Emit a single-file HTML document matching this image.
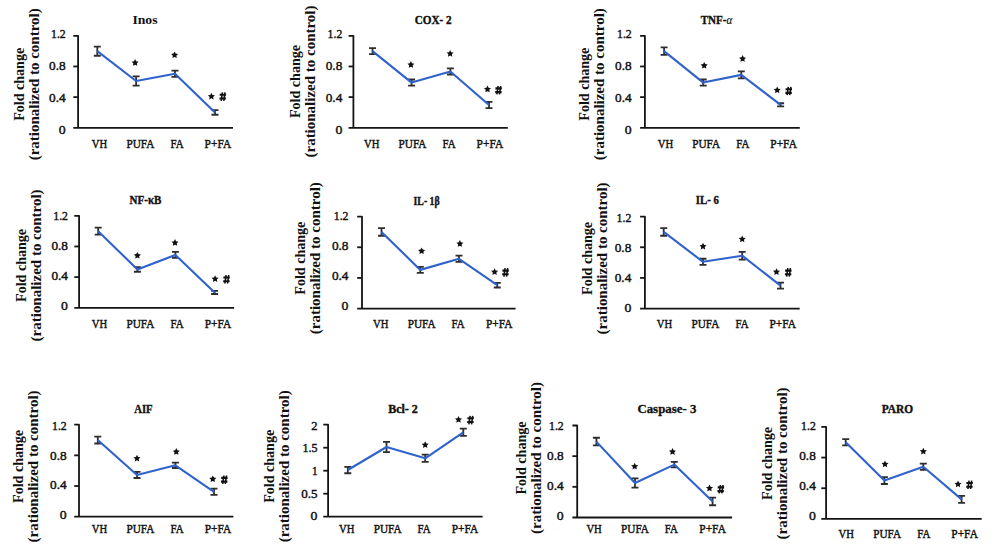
<!DOCTYPE html>
<html><head><meta charset="utf-8"><style>
html,body{margin:0;padding:0;background:#fff;width:1000px;height:548px;overflow:hidden}
svg{display:block}
text{font-family:"Liberation Serif", serif;fill:#111}
.tk{font-size:11.8px;stroke:#111;stroke-width:0.4px}
.ct{font-size:12.6px;stroke:#111;stroke-width:0.45px}
.ti{font-size:13.2px;font-weight:bold}
.yl{font-size:14px;font-weight:bold}
</style></head><body>
<svg width="1000" height="548" viewBox="0 0 1000 548">
<rect width="1000" height="548" fill="#fff"/>
<path d="M73.30,35.80 H78.10 V127.80 H233.00 M73.30,127.80 H78.10" fill="none" stroke="#141414" stroke-width="1.8" stroke-linejoin="round"/>
<text x="65.70" y="134.40" text-anchor="end" class="tk" textLength="6.90" lengthAdjust="spacingAndGlyphs">0</text>
<line x1="73.30" y1="97.13" x2="78.10" y2="97.13" stroke="#141414" stroke-width="1.8"/>
<text x="65.70" y="102.27" text-anchor="end" class="tk" textLength="16.60" lengthAdjust="spacingAndGlyphs">0.4</text>
<line x1="73.30" y1="66.47" x2="78.10" y2="66.47" stroke="#141414" stroke-width="1.8"/>
<text x="65.70" y="70.13" text-anchor="end" class="tk" textLength="16.60" lengthAdjust="spacingAndGlyphs">0.8</text>
<text x="65.70" y="38.00" text-anchor="end" class="tk" textLength="14.70" lengthAdjust="spacingAndGlyphs">1.2</text>
<path d="M93.80,46.53 H100.80 M97.30,46.53 V55.73 M93.80,55.73 H100.80" stroke="#2e2e2e" stroke-width="1.8" fill="none"/>
<path d="M132.60,76.43 H139.60 M136.10,76.43 V85.63 M132.60,85.63 H139.60" stroke="#2e2e2e" stroke-width="1.8" fill="none"/>
<path d="M171.50,70.68 H178.50 M175.00,70.68 V76.82 M171.50,76.82 H178.50" stroke="#2e2e2e" stroke-width="1.8" fill="none"/>
<path d="M211.50,110.17 H218.50 M215.00,110.17 V114.77 M211.50,114.77 H218.50" stroke="#2e2e2e" stroke-width="1.8" fill="none"/>
<polyline points="97.30,51.13 136.10,81.03 175.00,73.75 215.00,112.47" fill="none" stroke="#3062cc" stroke-width="2.1" stroke-linejoin="round"/>
<polygon points="135.10,59.10 136.19,61.30 138.62,61.66 136.86,63.37 137.27,65.79 135.10,64.65 132.93,65.79 133.34,63.37 131.58,61.66 134.01,61.30" fill="#111"/>
<polygon points="174.60,51.40 175.69,53.60 178.12,53.96 176.36,55.67 176.77,58.09 174.60,56.95 172.43,58.09 172.84,55.67 171.08,53.96 173.51,53.60" fill="#111"/>
<polygon points="211.40,92.80 212.49,95.00 214.92,95.36 213.16,97.07 213.57,99.49 211.40,98.35 209.23,99.49 209.64,97.07 207.88,95.36 210.31,95.00" fill="#111"/>
<path d="M219.70,94.80 H226.10 M219.50,98.50 H225.90" stroke="#111" stroke-width="2.1"/><path d="M222.40,92.40 L221.20,100.80 M225.00,92.40 L223.80,100.80" stroke="#111" stroke-width="1.6"/>
<text x="145.00" y="23.80" text-anchor="middle" class="ti" stroke="#111" stroke-width="0" textLength="25.20" lengthAdjust="spacingAndGlyphs">Inos</text>
<text x="99.50" y="147.90" text-anchor="middle" class="ct" textLength="15.40" lengthAdjust="spacingAndGlyphs">VH</text>
<text x="140.40" y="147.90" text-anchor="middle" class="ct" textLength="27.90" lengthAdjust="spacingAndGlyphs">PUFA</text>
<text x="177.00" y="147.90" text-anchor="middle" class="ct" textLength="13.20" lengthAdjust="spacingAndGlyphs">FA</text>
<text x="217.90" y="147.90" text-anchor="middle" class="ct" textLength="26.60" lengthAdjust="spacingAndGlyphs">P+FA</text>
<text transform="translate(23.70,84.30) rotate(-90)" text-anchor="middle" class="yl" textLength="73" lengthAdjust="spacingAndGlyphs">Fold change</text>
<text transform="translate(38.80,84.30) rotate(-90)" text-anchor="middle" class="yl" textLength="152" lengthAdjust="spacingAndGlyphs">(rationalized to control)</text>
<path d="M348.60,35.80 H353.40 V127.80 H507.80 M348.60,127.80 H353.40" fill="none" stroke="#141414" stroke-width="1.8" stroke-linejoin="round"/>
<text x="342.30" y="134.40" text-anchor="end" class="tk" textLength="6.90" lengthAdjust="spacingAndGlyphs">0</text>
<line x1="348.60" y1="97.13" x2="353.40" y2="97.13" stroke="#141414" stroke-width="1.8"/>
<text x="342.30" y="102.27" text-anchor="end" class="tk" textLength="16.60" lengthAdjust="spacingAndGlyphs">0.4</text>
<line x1="348.60" y1="66.47" x2="353.40" y2="66.47" stroke="#141414" stroke-width="1.8"/>
<text x="342.30" y="70.13" text-anchor="end" class="tk" textLength="16.60" lengthAdjust="spacingAndGlyphs">0.8</text>
<text x="342.30" y="38.00" text-anchor="end" class="tk" textLength="14.70" lengthAdjust="spacingAndGlyphs">1.2</text>
<path d="M369.00,48.07 H376.00 M372.50,48.07 V54.20 M369.00,54.20 H376.00" stroke="#2e2e2e" stroke-width="1.8" fill="none"/>
<path d="M408.10,79.50 H415.10 M411.60,79.50 V85.63 M408.10,85.63 H415.10" stroke="#2e2e2e" stroke-width="1.8" fill="none"/>
<path d="M446.90,68.38 H453.90 M450.40,68.38 V74.52 M446.90,74.52 H453.90" stroke="#2e2e2e" stroke-width="1.8" fill="none"/>
<path d="M485.50,101.96 H492.50 M489.00,101.96 V108.10 M485.50,108.10 H492.50" stroke="#2e2e2e" stroke-width="1.8" fill="none"/>
<polyline points="372.50,51.13 411.60,82.57 450.40,71.45 489.00,105.03" fill="none" stroke="#3062cc" stroke-width="2.1" stroke-linejoin="round"/>
<polygon points="410.90,61.10 411.99,63.30 414.42,63.66 412.66,65.37 413.07,67.79 410.90,66.65 408.73,67.79 409.14,65.37 407.38,63.66 409.81,63.30" fill="#111"/>
<polygon points="450.10,50.00 451.19,52.20 453.62,52.56 451.86,54.27 452.27,56.69 450.10,55.55 447.93,56.69 448.34,54.27 446.58,52.56 449.01,52.20" fill="#111"/>
<polygon points="487.50,85.60 488.59,87.80 491.02,88.16 489.26,89.87 489.67,92.29 487.50,91.15 485.33,92.29 485.74,89.87 483.98,88.16 486.41,87.80" fill="#111"/>
<path d="M495.40,88.40 H501.80 M495.20,92.10 H501.60" stroke="#111" stroke-width="2.1"/><path d="M498.10,86.00 L496.90,94.40 M500.70,86.00 L499.50,94.40" stroke="#111" stroke-width="1.6"/>
<text x="433.20" y="23.70" text-anchor="middle" class="ti" stroke="#111" stroke-width="0.4" textLength="37.00" lengthAdjust="spacingAndGlyphs">COX- 2</text>
<text x="371.80" y="148.25" text-anchor="middle" class="ct" textLength="15.40" lengthAdjust="spacingAndGlyphs">VH</text>
<text x="412.50" y="148.25" text-anchor="middle" class="ct" textLength="27.90" lengthAdjust="spacingAndGlyphs">PUFA</text>
<text x="449.10" y="148.25" text-anchor="middle" class="ct" textLength="13.20" lengthAdjust="spacingAndGlyphs">FA</text>
<text x="489.90" y="148.25" text-anchor="middle" class="ct" textLength="26.60" lengthAdjust="spacingAndGlyphs">P+FA</text>
<text transform="translate(299.60,81.50) rotate(-90)" text-anchor="middle" class="yl" textLength="73" lengthAdjust="spacingAndGlyphs">Fold change</text>
<text transform="translate(314.70,81.50) rotate(-90)" text-anchor="middle" class="yl" textLength="152" lengthAdjust="spacingAndGlyphs">(rationalized to control)</text>
<path d="M640.10,35.80 H644.90 V127.80 H799.80 M640.10,127.80 H644.90" fill="none" stroke="#141414" stroke-width="1.8" stroke-linejoin="round"/>
<text x="631.70" y="134.40" text-anchor="end" class="tk" textLength="6.90" lengthAdjust="spacingAndGlyphs">0</text>
<line x1="640.10" y1="97.13" x2="644.90" y2="97.13" stroke="#141414" stroke-width="1.8"/>
<text x="631.70" y="102.27" text-anchor="end" class="tk" textLength="16.60" lengthAdjust="spacingAndGlyphs">0.4</text>
<line x1="640.10" y1="66.47" x2="644.90" y2="66.47" stroke="#141414" stroke-width="1.8"/>
<text x="631.70" y="70.13" text-anchor="end" class="tk" textLength="16.60" lengthAdjust="spacingAndGlyphs">0.8</text>
<text x="631.70" y="38.00" text-anchor="end" class="tk" textLength="14.70" lengthAdjust="spacingAndGlyphs">1.2</text>
<path d="M660.60,47.30 H667.60 M664.10,47.30 V54.97 M660.60,54.97 H667.60" stroke="#2e2e2e" stroke-width="1.8" fill="none"/>
<path d="M699.70,79.50 H706.70 M703.20,79.50 V85.63 M699.70,85.63 H706.70" stroke="#2e2e2e" stroke-width="1.8" fill="none"/>
<path d="M737.80,71.45 H744.80 M741.30,71.45 V78.35 M737.80,78.35 H744.80" stroke="#2e2e2e" stroke-width="1.8" fill="none"/>
<path d="M777.10,103.27 H784.10 M780.60,103.27 V106.33 M777.10,106.33 H784.10" stroke="#2e2e2e" stroke-width="1.8" fill="none"/>
<polyline points="664.10,51.13 703.20,82.57 741.30,74.90 780.60,104.80" fill="none" stroke="#3062cc" stroke-width="2.1" stroke-linejoin="round"/>
<polygon points="704.20,61.90 705.29,64.10 707.72,64.46 705.96,66.17 706.37,68.59 704.20,67.45 702.03,68.59 702.44,66.17 700.68,64.46 703.11,64.10" fill="#111"/>
<polygon points="742.60,55.10 743.69,57.30 746.12,57.66 744.36,59.37 744.77,61.79 742.60,60.65 740.43,61.79 740.84,59.37 739.08,57.66 741.51,57.30" fill="#111"/>
<polygon points="777.20,86.50 778.29,88.70 780.72,89.06 778.96,90.77 779.37,93.19 777.20,92.05 775.03,93.19 775.44,90.77 773.68,89.06 776.11,88.70" fill="#111"/>
<path d="M785.60,89.20 H792.00 M785.40,92.90 H791.80" stroke="#111" stroke-width="2.1"/><path d="M788.30,86.80 L787.10,95.20 M790.90,86.80 L789.70,95.20" stroke="#111" stroke-width="1.6"/>
<text x="716.50" y="24.40" text-anchor="middle" class="ti" stroke="#111" stroke-width="0.4" textLength="31.50" lengthAdjust="spacingAndGlyphs">TNF-<tspan font-style="italic" font-weight="normal" stroke-width="0.2">α</tspan></text>
<text x="665.50" y="148.25" text-anchor="middle" class="ct" textLength="15.40" lengthAdjust="spacingAndGlyphs">VH</text>
<text x="706.20" y="148.25" text-anchor="middle" class="ct" textLength="27.90" lengthAdjust="spacingAndGlyphs">PUFA</text>
<text x="742.90" y="148.25" text-anchor="middle" class="ct" textLength="13.20" lengthAdjust="spacingAndGlyphs">FA</text>
<text x="783.60" y="148.25" text-anchor="middle" class="ct" textLength="26.60" lengthAdjust="spacingAndGlyphs">P+FA</text>
<text transform="translate(589.20,84.20) rotate(-90)" text-anchor="middle" class="yl" textLength="73" lengthAdjust="spacingAndGlyphs">Fold change</text>
<text transform="translate(604.30,84.20) rotate(-90)" text-anchor="middle" class="yl" textLength="152" lengthAdjust="spacingAndGlyphs">(rationalized to control)</text>
<path d="M74.30,215.80 H79.10 V307.80 H234.10 M74.30,307.80 H79.10" fill="none" stroke="#141414" stroke-width="1.8" stroke-linejoin="round"/>
<text x="68.00" y="310.00" text-anchor="end" class="tk" textLength="6.90" lengthAdjust="spacingAndGlyphs">0</text>
<line x1="74.30" y1="277.13" x2="79.10" y2="277.13" stroke="#141414" stroke-width="1.8"/>
<text x="68.00" y="280.13" text-anchor="end" class="tk" textLength="16.60" lengthAdjust="spacingAndGlyphs">0.4</text>
<line x1="74.30" y1="246.47" x2="79.10" y2="246.47" stroke="#141414" stroke-width="1.8"/>
<text x="68.00" y="250.27" text-anchor="end" class="tk" textLength="16.60" lengthAdjust="spacingAndGlyphs">0.8</text>
<text x="68.00" y="220.40" text-anchor="end" class="tk" textLength="14.70" lengthAdjust="spacingAndGlyphs">1.2</text>
<path d="M94.70,227.68 H101.70 M98.20,227.68 V234.58 M94.70,234.58 H101.70" stroke="#2e2e2e" stroke-width="1.8" fill="none"/>
<path d="M133.90,267.17 H140.90 M137.40,267.17 V271.77 M133.90,271.77 H140.90" stroke="#2e2e2e" stroke-width="1.8" fill="none"/>
<path d="M171.90,251.83 H178.90 M175.40,251.83 V257.97 M171.90,257.97 H178.90" stroke="#2e2e2e" stroke-width="1.8" fill="none"/>
<path d="M211.10,290.93 H218.10 M214.60,290.93 V294.00 M211.10,294.00 H218.10" stroke="#2e2e2e" stroke-width="1.8" fill="none"/>
<polyline points="98.20,231.13 137.40,269.47 175.40,254.90 214.60,292.47" fill="none" stroke="#3062cc" stroke-width="2.1" stroke-linejoin="round"/>
<polygon points="137.40,251.90 138.49,254.10 140.92,254.46 139.16,256.17 139.57,258.59 137.40,257.45 135.23,258.59 135.64,256.17 133.88,254.46 136.31,254.10" fill="#111"/>
<polygon points="175.00,239.10 176.09,241.30 178.52,241.66 176.76,243.37 177.17,245.79 175.00,244.65 172.83,245.79 173.24,243.37 171.48,241.66 173.91,241.30" fill="#111"/>
<polygon points="215.10,275.30 216.19,277.50 218.62,277.86 216.86,279.57 217.27,281.99 215.10,280.85 212.93,281.99 213.34,279.57 211.58,277.86 214.01,277.50" fill="#111"/>
<path d="M223.40,277.50 H229.80 M223.20,281.20 H229.60" stroke="#111" stroke-width="2.1"/><path d="M226.10,275.10 L224.90,283.50 M228.70,275.10 L227.50,283.50" stroke="#111" stroke-width="1.6"/>
<text x="145.50" y="204.40" text-anchor="middle" class="ti" stroke="#111" stroke-width="0.4" textLength="31.80" lengthAdjust="spacingAndGlyphs">NF-κB</text>
<text x="99.50" y="327.55" text-anchor="middle" class="ct" textLength="15.40" lengthAdjust="spacingAndGlyphs">VH</text>
<text x="140.40" y="327.55" text-anchor="middle" class="ct" textLength="27.90" lengthAdjust="spacingAndGlyphs">PUFA</text>
<text x="177.00" y="327.55" text-anchor="middle" class="ct" textLength="13.20" lengthAdjust="spacingAndGlyphs">FA</text>
<text x="218.00" y="327.55" text-anchor="middle" class="ct" textLength="26.60" lengthAdjust="spacingAndGlyphs">P+FA</text>
<text transform="translate(26.00,265.40) rotate(-90)" text-anchor="middle" class="yl" textLength="73" lengthAdjust="spacingAndGlyphs">Fold change</text>
<text transform="translate(41.10,265.40) rotate(-90)" text-anchor="middle" class="yl" textLength="152" lengthAdjust="spacingAndGlyphs">(rationalized to control)</text>
<path d="M357.20,216.60 H362.00 V308.60 H515.60 M357.20,308.60 H362.00" fill="none" stroke="#141414" stroke-width="1.8" stroke-linejoin="round"/>
<text x="348.50" y="310.00" text-anchor="end" class="tk" textLength="6.90" lengthAdjust="spacingAndGlyphs">0</text>
<line x1="357.20" y1="277.93" x2="362.00" y2="277.93" stroke="#141414" stroke-width="1.8"/>
<text x="348.50" y="280.13" text-anchor="end" class="tk" textLength="16.60" lengthAdjust="spacingAndGlyphs">0.4</text>
<line x1="357.20" y1="247.27" x2="362.00" y2="247.27" stroke="#141414" stroke-width="1.8"/>
<text x="348.50" y="250.27" text-anchor="end" class="tk" textLength="16.60" lengthAdjust="spacingAndGlyphs">0.8</text>
<text x="348.50" y="220.40" text-anchor="end" class="tk" textLength="14.70" lengthAdjust="spacingAndGlyphs">1.2</text>
<path d="M378.00,228.10 H385.00 M381.50,228.10 V235.77 M378.00,235.77 H385.00" stroke="#2e2e2e" stroke-width="1.8" fill="none"/>
<path d="M416.80,266.82 H423.80 M420.30,266.82 V272.95 M416.80,272.95 H423.80" stroke="#2e2e2e" stroke-width="1.8" fill="none"/>
<path d="M455.50,255.70 H462.50 M459.00,255.70 V261.83 M455.50,261.83 H462.50" stroke="#2e2e2e" stroke-width="1.8" fill="none"/>
<path d="M493.80,282.92 H500.80 M497.30,282.92 V287.52 M493.80,287.52 H500.80" stroke="#2e2e2e" stroke-width="1.8" fill="none"/>
<polyline points="381.50,231.93 420.30,269.88 459.00,258.77 497.30,285.22" fill="none" stroke="#3062cc" stroke-width="2.1" stroke-linejoin="round"/>
<polygon points="421.60,247.40 422.69,249.60 425.12,249.96 423.36,251.67 423.77,254.09 421.60,252.95 419.43,254.09 419.84,251.67 418.08,249.96 420.51,249.60" fill="#111"/>
<polygon points="459.90,240.10 460.99,242.30 463.42,242.66 461.66,244.37 462.07,246.79 459.90,245.65 457.73,246.79 458.14,244.37 456.38,242.66 458.81,242.30" fill="#111"/>
<polygon points="494.60,268.30 495.69,270.50 498.12,270.86 496.36,272.57 496.77,274.99 494.60,273.85 492.43,274.99 492.84,272.57 491.08,270.86 493.51,270.50" fill="#111"/>
<path d="M502.40,270.60 H508.80 M502.20,274.30 H508.60" stroke="#111" stroke-width="2.1"/><path d="M505.10,268.20 L503.90,276.60 M507.70,268.20 L506.50,276.60" stroke="#111" stroke-width="1.6"/>
<text x="426.60" y="204.60" text-anchor="middle" class="ti" stroke="#111" stroke-width="0.4" textLength="26.20" lengthAdjust="spacingAndGlyphs">IL- 1β</text>
<text x="380.80" y="327.55" text-anchor="middle" class="ct" textLength="15.40" lengthAdjust="spacingAndGlyphs">VH</text>
<text x="421.70" y="327.55" text-anchor="middle" class="ct" textLength="27.90" lengthAdjust="spacingAndGlyphs">PUFA</text>
<text x="458.20" y="327.55" text-anchor="middle" class="ct" textLength="13.20" lengthAdjust="spacingAndGlyphs">FA</text>
<text x="499.20" y="327.55" text-anchor="middle" class="ct" textLength="26.60" lengthAdjust="spacingAndGlyphs">P+FA</text>
<text transform="translate(304.60,258.20) rotate(-90)" text-anchor="middle" class="yl" textLength="73" lengthAdjust="spacingAndGlyphs">Fold change</text>
<text transform="translate(319.70,258.20) rotate(-90)" text-anchor="middle" class="yl" textLength="152" lengthAdjust="spacingAndGlyphs">(rationalized to control)</text>
<path d="M640.10,216.60 H644.90 V308.60 H799.70 M640.10,308.60 H644.90" fill="none" stroke="#141414" stroke-width="1.8" stroke-linejoin="round"/>
<text x="631.30" y="312.00" text-anchor="end" class="tk" textLength="6.90" lengthAdjust="spacingAndGlyphs">0</text>
<line x1="640.10" y1="277.93" x2="644.90" y2="277.93" stroke="#141414" stroke-width="1.8"/>
<text x="631.30" y="281.97" text-anchor="end" class="tk" textLength="16.60" lengthAdjust="spacingAndGlyphs">0.4</text>
<line x1="640.10" y1="247.27" x2="644.90" y2="247.27" stroke="#141414" stroke-width="1.8"/>
<text x="631.30" y="251.93" text-anchor="end" class="tk" textLength="16.60" lengthAdjust="spacingAndGlyphs">0.8</text>
<text x="631.30" y="221.90" text-anchor="end" class="tk" textLength="14.70" lengthAdjust="spacingAndGlyphs">1.2</text>
<path d="M660.20,228.10 H667.20 M663.70,228.10 V235.77 M660.20,235.77 H667.20" stroke="#2e2e2e" stroke-width="1.8" fill="none"/>
<path d="M699.50,258.77 H706.50 M703.00,258.77 V264.90 M699.50,264.90 H706.50" stroke="#2e2e2e" stroke-width="1.8" fill="none"/>
<path d="M738.70,251.87 H745.70 M742.20,251.87 V259.53 M738.70,259.53 H745.70" stroke="#2e2e2e" stroke-width="1.8" fill="none"/>
<path d="M777.00,282.53 H784.00 M780.50,282.53 V288.67 M777.00,288.67 H784.00" stroke="#2e2e2e" stroke-width="1.8" fill="none"/>
<polyline points="663.70,231.93 703.00,261.83 742.20,255.70 780.50,285.60" fill="none" stroke="#3062cc" stroke-width="2.1" stroke-linejoin="round"/>
<polygon points="703.00,242.80 704.09,245.00 706.52,245.36 704.76,247.07 705.17,249.49 703.00,248.35 700.83,249.49 701.24,247.07 699.48,245.36 701.91,245.00" fill="#111"/>
<polygon points="742.20,235.50 743.29,237.70 745.72,238.06 743.96,239.77 744.37,242.19 742.20,241.05 740.03,242.19 740.44,239.77 738.68,238.06 741.11,237.70" fill="#111"/>
<polygon points="776.50,268.30 777.59,270.50 780.02,270.86 778.26,272.57 778.67,274.99 776.50,273.85 774.33,274.99 774.74,272.57 772.98,270.86 775.41,270.50" fill="#111"/>
<path d="M785.10,270.60 H791.50 M784.90,274.30 H791.30" stroke="#111" stroke-width="2.1"/><path d="M787.80,268.20 L786.60,276.60 M790.40,268.20 L789.20,276.60" stroke="#111" stroke-width="1.6"/>
<text x="707.30" y="204.30" text-anchor="middle" class="ti" stroke="#111" stroke-width="0.4" textLength="23.10" lengthAdjust="spacingAndGlyphs">IL- 6</text>
<text x="664.50" y="327.70" text-anchor="middle" class="ct" textLength="15.40" lengthAdjust="spacingAndGlyphs">VH</text>
<text x="705.40" y="327.70" text-anchor="middle" class="ct" textLength="27.90" lengthAdjust="spacingAndGlyphs">PUFA</text>
<text x="742.00" y="327.70" text-anchor="middle" class="ct" textLength="13.20" lengthAdjust="spacingAndGlyphs">FA</text>
<text x="782.80" y="327.70" text-anchor="middle" class="ct" textLength="26.60" lengthAdjust="spacingAndGlyphs">P+FA</text>
<text transform="translate(591.90,258.40) rotate(-90)" text-anchor="middle" class="yl" textLength="73" lengthAdjust="spacingAndGlyphs">Fold change</text>
<text transform="translate(607.00,258.40) rotate(-90)" text-anchor="middle" class="yl" textLength="152" lengthAdjust="spacingAndGlyphs">(rationalized to control)</text>
<path d="M74.20,424.70 H79.00 V516.70 H233.40 M74.20,516.70 H79.00" fill="none" stroke="#141414" stroke-width="1.8" stroke-linejoin="round"/>
<text x="66.70" y="519.20" text-anchor="end" class="tk" textLength="6.90" lengthAdjust="spacingAndGlyphs">0</text>
<line x1="74.20" y1="486.03" x2="79.00" y2="486.03" stroke="#141414" stroke-width="1.8"/>
<text x="66.70" y="489.37" text-anchor="end" class="tk" textLength="16.60" lengthAdjust="spacingAndGlyphs">0.4</text>
<line x1="74.20" y1="455.37" x2="79.00" y2="455.37" stroke="#141414" stroke-width="1.8"/>
<text x="66.70" y="459.53" text-anchor="end" class="tk" textLength="16.60" lengthAdjust="spacingAndGlyphs">0.8</text>
<text x="66.70" y="429.70" text-anchor="end" class="tk" textLength="14.70" lengthAdjust="spacingAndGlyphs">1.2</text>
<path d="M94.30,436.58 H101.30 M97.80,436.58 V443.48 M94.30,443.48 H101.30" stroke="#2e2e2e" stroke-width="1.8" fill="none"/>
<path d="M133.50,471.85 H140.50 M137.00,471.85 V477.98 M133.50,477.98 H140.50" stroke="#2e2e2e" stroke-width="1.8" fill="none"/>
<path d="M171.90,462.65 H178.90 M175.40,462.65 V468.02 M171.90,468.02 H178.90" stroke="#2e2e2e" stroke-width="1.8" fill="none"/>
<path d="M210.50,488.72 H217.50 M214.00,488.72 V494.85 M210.50,494.85 H217.50" stroke="#2e2e2e" stroke-width="1.8" fill="none"/>
<polyline points="97.80,440.03 137.00,474.92 175.40,465.33 214.00,491.78" fill="none" stroke="#3062cc" stroke-width="2.1" stroke-linejoin="round"/>
<polygon points="137.00,454.80 138.09,457.00 140.52,457.36 138.76,459.07 139.17,461.49 137.00,460.35 134.83,461.49 135.24,459.07 133.48,457.36 135.91,457.00" fill="#111"/>
<polygon points="176.30,448.10 177.39,450.30 179.82,450.66 178.06,452.37 178.47,454.79 176.30,453.65 174.13,454.79 174.54,452.37 172.78,450.66 175.21,450.30" fill="#111"/>
<polygon points="212.80,475.40 213.89,477.60 216.32,477.96 214.56,479.67 214.97,482.09 212.80,480.95 210.63,482.09 211.04,479.67 209.28,477.96 211.71,477.60" fill="#111"/>
<path d="M221.20,477.90 H227.60 M221.00,481.60 H227.40" stroke="#111" stroke-width="2.1"/><path d="M223.90,475.50 L222.70,483.90 M226.50,475.50 L225.30,483.90" stroke="#111" stroke-width="1.6"/>
<text x="143.40" y="412.90" text-anchor="middle" class="ti" stroke="#111" stroke-width="0.4" textLength="18.40" lengthAdjust="spacingAndGlyphs">AIF</text>
<text x="99.50" y="533.05" text-anchor="middle" class="ct" textLength="15.40" lengthAdjust="spacingAndGlyphs">VH</text>
<text x="140.40" y="533.05" text-anchor="middle" class="ct" textLength="27.90" lengthAdjust="spacingAndGlyphs">PUFA</text>
<text x="177.00" y="533.05" text-anchor="middle" class="ct" textLength="13.20" lengthAdjust="spacingAndGlyphs">FA</text>
<text x="218.00" y="533.05" text-anchor="middle" class="ct" textLength="26.60" lengthAdjust="spacingAndGlyphs">P+FA</text>
<text transform="translate(23.20,466.40) rotate(-90)" text-anchor="middle" class="yl" textLength="73" lengthAdjust="spacingAndGlyphs">Fold change</text>
<text transform="translate(38.30,466.40) rotate(-90)" text-anchor="middle" class="yl" textLength="152" lengthAdjust="spacingAndGlyphs">(rationalized to control)</text>
<path d="M323.30,424.70 H328.10 V516.70 H482.60 M323.30,516.70 H328.10" fill="none" stroke="#141414" stroke-width="1.8" stroke-linejoin="round"/>
<text x="317.50" y="520.20" text-anchor="end" class="tk" textLength="6.90" lengthAdjust="spacingAndGlyphs">0</text>
<line x1="323.30" y1="493.70" x2="328.10" y2="493.70" stroke="#141414" stroke-width="1.8"/>
<text x="317.50" y="497.52" text-anchor="end" class="tk" textLength="16.30" lengthAdjust="spacingAndGlyphs">0.5</text>
<line x1="323.30" y1="470.70" x2="328.10" y2="470.70" stroke="#141414" stroke-width="1.8"/>
<text x="317.50" y="474.85" text-anchor="end" class="tk" textLength="5.60" lengthAdjust="spacingAndGlyphs">1</text>
<line x1="323.30" y1="447.70" x2="328.10" y2="447.70" stroke="#141414" stroke-width="1.8"/>
<text x="317.50" y="452.18" text-anchor="end" class="tk" textLength="15.00" lengthAdjust="spacingAndGlyphs">1.5</text>
<text x="317.50" y="429.50" text-anchor="end" class="tk" textLength="6.30" lengthAdjust="spacingAndGlyphs">2</text>
<path d="M344.30,466.79 H351.30 M347.80,466.79 V473.23 M344.30,473.23 H351.30" stroke="#2e2e2e" stroke-width="1.8" fill="none"/>
<path d="M383.00,441.95 H390.00 M386.50,441.95 V452.07 M383.00,452.07 H390.00" stroke="#2e2e2e" stroke-width="1.8" fill="none"/>
<path d="M421.70,454.60 H428.70 M425.20,454.60 V461.96 M421.70,461.96 H428.70" stroke="#2e2e2e" stroke-width="1.8" fill="none"/>
<path d="M459.80,428.61 H466.80 M463.30,428.61 V435.97 M459.80,435.97 H466.80" stroke="#2e2e2e" stroke-width="1.8" fill="none"/>
<polyline points="347.80,470.01 386.50,447.01 425.20,458.28 463.30,432.29" fill="none" stroke="#3062cc" stroke-width="2.1" stroke-linejoin="round"/>
<polygon points="425.20,441.20 426.29,443.40 428.72,443.76 426.96,445.47 427.37,447.89 425.20,446.75 423.03,447.89 423.44,445.47 421.68,443.76 424.11,443.40" fill="#111"/>
<polygon points="458.50,416.00 459.59,418.20 462.02,418.56 460.26,420.27 460.67,422.69 458.50,421.55 456.33,422.69 456.74,420.27 454.98,418.56 457.41,418.20" fill="#111"/>
<path d="M467.40,418.30 H473.80 M467.20,422.00 H473.60" stroke="#111" stroke-width="2.1"/><path d="M470.10,415.90 L468.90,424.30 M472.70,415.90 L471.50,424.30" stroke="#111" stroke-width="1.6"/>
<text x="403.00" y="412.90" text-anchor="middle" class="ti" stroke="#111" stroke-width="0.4" textLength="29.70" lengthAdjust="spacingAndGlyphs">Bcl- 2</text>
<text x="346.80" y="532.90" text-anchor="middle" class="ct" textLength="15.40" lengthAdjust="spacingAndGlyphs">VH</text>
<text x="387.60" y="532.90" text-anchor="middle" class="ct" textLength="27.90" lengthAdjust="spacingAndGlyphs">PUFA</text>
<text x="424.20" y="532.90" text-anchor="middle" class="ct" textLength="13.20" lengthAdjust="spacingAndGlyphs">FA</text>
<text x="465.00" y="532.90" text-anchor="middle" class="ct" textLength="26.60" lengthAdjust="spacingAndGlyphs">P+FA</text>
<text transform="translate(273.70,466.30) rotate(-90)" text-anchor="middle" class="yl" textLength="73" lengthAdjust="spacingAndGlyphs">Fold change</text>
<text transform="translate(288.80,466.30) rotate(-90)" text-anchor="middle" class="yl" textLength="152" lengthAdjust="spacingAndGlyphs">(rationalized to control)</text>
<path d="M572.40,425.50 H577.20 V517.50 H732.10 M572.40,517.50 H577.20" fill="none" stroke="#141414" stroke-width="1.8" stroke-linejoin="round"/>
<text x="563.70" y="519.80" text-anchor="end" class="tk" textLength="6.90" lengthAdjust="spacingAndGlyphs">0</text>
<line x1="572.40" y1="486.83" x2="577.20" y2="486.83" stroke="#141414" stroke-width="1.8"/>
<text x="563.70" y="489.93" text-anchor="end" class="tk" textLength="16.60" lengthAdjust="spacingAndGlyphs">0.4</text>
<line x1="572.40" y1="456.17" x2="577.20" y2="456.17" stroke="#141414" stroke-width="1.8"/>
<text x="563.70" y="460.07" text-anchor="end" class="tk" textLength="16.60" lengthAdjust="spacingAndGlyphs">0.8</text>
<text x="563.70" y="430.20" text-anchor="end" class="tk" textLength="14.70" lengthAdjust="spacingAndGlyphs">1.2</text>
<path d="M592.90,437.77 H599.90 M596.40,437.77 V445.43 M592.90,445.43 H599.90" stroke="#2e2e2e" stroke-width="1.8" fill="none"/>
<path d="M631.50,478.40 H638.50 M635.00,478.40 V487.60 M631.50,487.60 H638.50" stroke="#2e2e2e" stroke-width="1.8" fill="none"/>
<path d="M670.80,461.92 H677.80 M674.30,461.92 V467.28 M670.80,467.28 H677.80" stroke="#2e2e2e" stroke-width="1.8" fill="none"/>
<path d="M709.10,497.57 H716.10 M712.60,497.57 V505.23 M709.10,505.23 H716.10" stroke="#2e2e2e" stroke-width="1.8" fill="none"/>
<polyline points="596.40,441.60 635.00,483.00 674.30,464.60 712.60,501.40" fill="none" stroke="#3062cc" stroke-width="2.1" stroke-linejoin="round"/>
<polygon points="634.70,462.70 635.79,464.90 638.22,465.26 636.46,466.97 636.87,469.39 634.70,468.25 632.53,469.39 632.94,466.97 631.18,465.26 633.61,464.90" fill="#111"/>
<polygon points="672.50,448.10 673.59,450.30 676.02,450.66 674.26,452.37 674.67,454.79 672.50,453.65 670.33,454.79 670.74,452.37 668.98,450.66 671.41,450.30" fill="#111"/>
<polygon points="709.50,484.60 710.59,486.80 713.02,487.16 711.26,488.87 711.67,491.29 709.50,490.15 707.33,491.29 707.74,488.87 705.98,487.16 708.41,486.80" fill="#111"/>
<path d="M717.70,487.40 H724.10 M717.50,491.10 H723.90" stroke="#111" stroke-width="2.1"/><path d="M720.40,485.00 L719.20,493.40 M723.00,485.00 L721.80,493.40" stroke="#111" stroke-width="1.6"/>
<text x="666.90" y="412.90" text-anchor="middle" class="ti" stroke="#111" stroke-width="0.3" textLength="59.00" lengthAdjust="spacingAndGlyphs">Caspase- 3</text>
<text x="594.10" y="532.90" text-anchor="middle" class="ct" textLength="15.40" lengthAdjust="spacingAndGlyphs">VH</text>
<text x="635.00" y="532.90" text-anchor="middle" class="ct" textLength="27.90" lengthAdjust="spacingAndGlyphs">PUFA</text>
<text x="671.40" y="532.90" text-anchor="middle" class="ct" textLength="13.20" lengthAdjust="spacingAndGlyphs">FA</text>
<text x="712.60" y="532.90" text-anchor="middle" class="ct" textLength="26.60" lengthAdjust="spacingAndGlyphs">P+FA</text>
<text transform="translate(526.00,458.00) rotate(-90)" text-anchor="middle" class="yl" textLength="73" lengthAdjust="spacingAndGlyphs">Fold change</text>
<text transform="translate(541.10,458.00) rotate(-90)" text-anchor="middle" class="yl" textLength="152" lengthAdjust="spacingAndGlyphs">(rationalized to control)</text>
<path d="M821.30,426.90 H826.10 V518.90 H981.70 M821.30,518.90 H826.10" fill="none" stroke="#141414" stroke-width="1.8" stroke-linejoin="round"/>
<text x="815.80" y="519.80" text-anchor="end" class="tk" textLength="6.90" lengthAdjust="spacingAndGlyphs">0</text>
<line x1="821.30" y1="488.23" x2="826.10" y2="488.23" stroke="#141414" stroke-width="1.8"/>
<text x="815.80" y="489.77" text-anchor="end" class="tk" textLength="16.60" lengthAdjust="spacingAndGlyphs">0.4</text>
<line x1="821.30" y1="457.57" x2="826.10" y2="457.57" stroke="#141414" stroke-width="1.8"/>
<text x="815.80" y="459.73" text-anchor="end" class="tk" textLength="16.60" lengthAdjust="spacingAndGlyphs">0.8</text>
<text x="815.80" y="429.70" text-anchor="end" class="tk" textLength="14.70" lengthAdjust="spacingAndGlyphs">1.2</text>
<path d="M842.20,439.17 H849.20 M845.70,439.17 V445.30 M842.20,445.30 H849.20" stroke="#2e2e2e" stroke-width="1.8" fill="none"/>
<path d="M880.90,477.12 H887.90 M884.40,477.12 V484.02 M880.90,484.02 H887.90" stroke="#2e2e2e" stroke-width="1.8" fill="none"/>
<path d="M919.80,463.70 H926.80 M923.30,463.70 V469.83 M919.80,469.83 H926.80" stroke="#2e2e2e" stroke-width="1.8" fill="none"/>
<path d="M958.10,495.90 H965.10 M961.60,495.90 V502.80 M958.10,502.80 H965.10" stroke="#2e2e2e" stroke-width="1.8" fill="none"/>
<polyline points="845.70,442.23 884.40,480.57 923.30,466.77 961.60,499.35" fill="none" stroke="#3062cc" stroke-width="2.1" stroke-linejoin="round"/>
<polygon points="885.00,460.50 886.09,462.70 888.52,463.06 886.76,464.77 887.17,467.19 885.00,466.05 882.83,467.19 883.24,464.77 881.48,463.06 883.91,462.70" fill="#111"/>
<polygon points="923.30,447.70 924.39,449.90 926.82,450.26 925.06,451.97 925.47,454.39 923.30,453.25 921.13,454.39 921.54,451.97 919.78,450.26 922.21,449.90" fill="#111"/>
<polygon points="958.00,480.50 959.09,482.70 961.52,483.06 959.76,484.77 960.17,487.19 958.00,486.05 955.83,487.19 956.24,484.77 954.48,483.06 956.91,482.70" fill="#111"/>
<path d="M966.40,483.00 H972.80 M966.20,486.70 H972.60" stroke="#111" stroke-width="2.1"/><path d="M969.10,480.60 L967.90,489.00 M971.70,480.60 L970.50,489.00" stroke="#111" stroke-width="1.6"/>
<text x="897.40" y="412.90" text-anchor="middle" class="ti" stroke="#111" stroke-width="0.4" textLength="31.40" lengthAdjust="spacingAndGlyphs">PARO</text>
<text x="846.20" y="537.85" text-anchor="middle" class="ct" textLength="15.40" lengthAdjust="spacingAndGlyphs">VH</text>
<text x="887.20" y="537.85" text-anchor="middle" class="ct" textLength="27.90" lengthAdjust="spacingAndGlyphs">PUFA</text>
<text x="923.80" y="537.85" text-anchor="middle" class="ct" textLength="13.20" lengthAdjust="spacingAndGlyphs">FA</text>
<text x="964.60" y="537.85" text-anchor="middle" class="ct" textLength="26.60" lengthAdjust="spacingAndGlyphs">P+FA</text>
<text transform="translate(771.90,463.40) rotate(-90)" text-anchor="middle" class="yl" textLength="73" lengthAdjust="spacingAndGlyphs">Fold change</text>
<text transform="translate(787.00,463.40) rotate(-90)" text-anchor="middle" class="yl" textLength="152" lengthAdjust="spacingAndGlyphs">(rationalized to control)</text>
</svg></body></html>
